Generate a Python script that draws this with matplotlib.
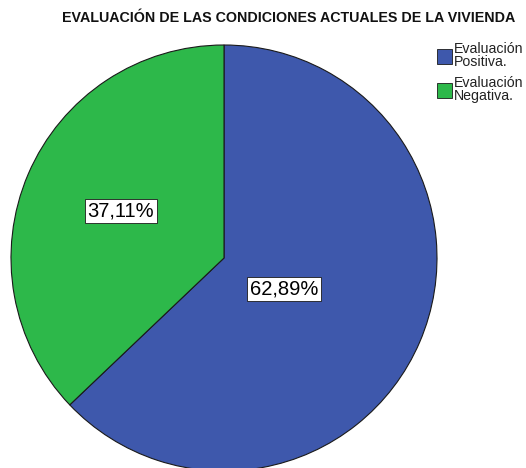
import matplotlib
matplotlib.use("Agg")
import matplotlib.pyplot as plt

plt.rcParams['font.family'] = ['Liberation Sans', 'DejaVu Sans']

# datos
etiquetas = ['Evaluación\nPositiva.', 'Evaluación\nNegativa.']
porcentajes = [62.89, 37.11]
textos = ['62,89%', '37,11%']
colores = ['#3E58AC', '#2DB84A']

W, H = 526, 468
fig = plt.figure(figsize=(W / 100, H / 100), dpi=100)

# pie centrado en (224, 258) px, radio 213 px
cx, cy, r = 224, 258, 213
ax = fig.add_axes([(cx - r) / W, (H - cy - r) / H, 2 * r / W, 2 * r / H])
wedges, _ = ax.pie(porcentajes, colors=colores, startangle=90, counterclock=False,
                   radius=1, wedgeprops=dict(edgecolor='#1a1a1a', linewidth=0.8))
ax.set_xlim(-1, 1)
ax.set_ylim(-1, 1)
ax.set_aspect('equal')
ax.axis('off')

# posiciones de las etiquetas (en px de la imagen)
pos = [(284, 289), (121, 211)]
for t, (px, py) in zip(textos, pos):
    fig.text(px / W, 1 - py / H, t, ha='center', va='center', fontsize=14.5,
             bbox=dict(boxstyle='square,pad=0.12', facecolor='white',
                       edgecolor='#1a1a1a', linewidth=0.6))

fig.text(289 / W, 1 - 18 / H, 'EVALUACIÓN DE LAS CONDICIONES ACTUALES DE LA VIVIENDA',
         ha='center', va='center', fontsize=10.3, fontweight='bold', color='#111111')

# leyenda
ley_y = [49, 83]
for c, lab, y in zip(colores, etiquetas, ley_y):
    fig.patches.append(plt.Rectangle((437 / W, 1 - (y + 15) / H), 15 / W, 15 / H,
                                     transform=fig.transFigure, facecolor=c,
                                     edgecolor='#1a1a1a', linewidth=0.6))
    fig.text(454 / W, 1 - (y - 7) / H, lab, ha='left', va='top', fontsize=10.2,
             color='#222222', linespacing=0.9)

fig.savefig('out.png', dpi=100)
